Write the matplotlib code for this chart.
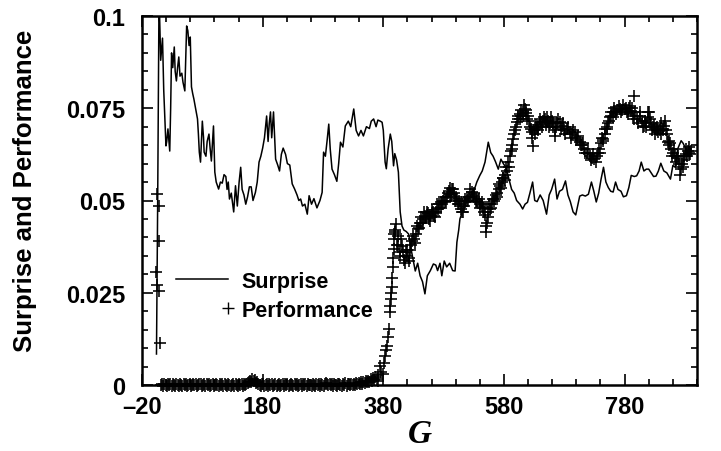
import numpy as np
import matplotlib
matplotlib.use("Agg")
import matplotlib.pyplot as plt
from matplotlib.lines import Line2D
from matplotlib.legend_handler import HandlerBase

# ---------------- data ----------------
surprise_G = [4, 6, 8, 9, 11, 12.5, 14, 16, 19.7, 21, 23, 26, 27.5, 29, 31, 33.5, 35, 37, 39, 41,
              43, 46, 48, 51, 54, 56, 58, 60, 62, 64, 66, 69, 72, 73.5, 75, 77, 78.5, 80, 82, 83,
              86, 88, 91, 93, 95, 97, 98.5, 100.7, 103, 107, 110, 113, 116, 119, 121, 123, 125, 128, 132, 135,
              138, 141, 143.6, 146, 149, 152, 155, 158, 161, 164, 168, 171, 174, 177, 180, 183, 186.6, 189, 191, 193,
              195, 198, 201.5, 205, 208, 211, 214, 218, 221, 225, 229, 233, 237, 240, 243, 246, 250, 254, 257, 261,
              265, 270, 275, 278.6, 281, 284, 287, 289.6, 292, 295, 299, 303, 306, 309, 313, 317, 322, 326, 331, 335,
              339, 343, 347, 352, 357, 360, 364, 368, 371, 375, 378, 380, 383, 385, 388, 391.6, 394, 397, 399, 402,
              405, 408, 411, 414, 418, 422, 427, 433, 437, 441, 445, 449, 453, 458, 463, 467, 470, 474, 477, 481,
              485, 490, 495, 499, 502, 505, 507, 511, 514, 518, 522, 527, 531, 535, 540, 544, 548.6, 554, 558, 562,
              566, 570.6, 575, 579, 583, 587, 592.7, 597, 601, 606.5, 611, 615, 619, 623, 627.5, 631, 635, 640, 645, 650.6,
              655, 659, 664, 668, 672, 677, 682, 686, 690, 694.6, 699, 705.6, 710, 715, 720, 725, 729, 733, 737, 741,
              745, 749, 753, 757, 761, 765, 769, 774, 778, 783, 787, 791, 796, 800, 804, 807.6, 812, 816, 820, 824,
              828, 832, 836, 840, 845, 850, 856, 860, 864, 868, 873.7, 877, 879, 882, 885, 889]
surprise_val = [0.0084, 0.05, 0.1, 0.101, 0.088, 0.091, 0.094, 0.08, 0.0648, 0.066, 0.0694, 0.0634, 0.075, 0.090, 0.086, 0.0916, 0.085, 0.0824, 0.086, 0.0889,
                0.0837, 0.0845, 0.082, 0.0797, 0.0973, 0.096, 0.092, 0.0943, 0.0808, 0.079, 0.0775, 0.0748, 0.0721, 0.068, 0.0631, 0.0604, 0.066, 0.0715, 0.067, 0.0631,
                0.062, 0.066, 0.068, 0.064, 0.0607, 0.066, 0.0702, 0.0577, 0.055, 0.0531, 0.055, 0.0547, 0.057, 0.0565, 0.053, 0.055, 0.0504, 0.052, 0.0469, 0.054,
                0.0485, 0.055, 0.059, 0.053, 0.0515, 0.049, 0.051, 0.0537, 0.0537, 0.05, 0.0522, 0.055, 0.0604, 0.062, 0.0642, 0.067, 0.0729, 0.066, 0.071, 0.074,
                0.067, 0.074, 0.0612, 0.0596, 0.058, 0.0625, 0.0642, 0.0625, 0.060, 0.0596, 0.0545, 0.0531, 0.0515, 0.050, 0.0504, 0.0485, 0.049, 0.0463, 0.0513, 0.049,
                0.0505, 0.048, 0.050, 0.0522, 0.0631, 0.062, 0.0665, 0.0707, 0.064, 0.0585, 0.057, 0.0552, 0.060, 0.0658, 0.0645, 0.0702, 0.0715, 0.070, 0.0748, 0.069,
                0.0675, 0.069, 0.0675, 0.0700, 0.0695, 0.0715, 0.0721, 0.070, 0.0718, 0.0715, 0.0712, 0.069, 0.0604, 0.0586, 0.064, 0.068, 0.066, 0.0594, 0.0627, 0.061,
                0.0577, 0.0469, 0.0431, 0.042, 0.0416, 0.0409, 0.036, 0.0309, 0.033, 0.0296, 0.028, 0.0247, 0.0296, 0.031, 0.0328, 0.0325, 0.031, 0.033, 0.0296, 0.0336,
                0.032, 0.033, 0.031, 0.0309, 0.0387, 0.042, 0.045, 0.0469, 0.048, 0.0496, 0.0505, 0.052, 0.053, 0.055, 0.0568, 0.058, 0.0604, 0.0658, 0.063, 0.062,
                0.0605, 0.0585, 0.0612, 0.060, 0.059, 0.0566, 0.053, 0.052, 0.050, 0.049, 0.0477, 0.049, 0.0495, 0.052, 0.055, 0.050, 0.0497, 0.0515, 0.050, 0.0463,
                0.0515, 0.053, 0.0558, 0.0504, 0.0525, 0.053, 0.0553, 0.0515, 0.0497, 0.0469, 0.0461, 0.0512, 0.0515, 0.0512, 0.0517, 0.055, 0.0525, 0.0496, 0.052, 0.0558,
                0.059, 0.055, 0.0535, 0.0525, 0.0523, 0.055, 0.053, 0.0525, 0.051, 0.0513, 0.0535, 0.0568, 0.0565, 0.0567, 0.058, 0.0604, 0.058, 0.0585, 0.0585, 0.0575,
                0.0565, 0.0566, 0.058, 0.0601, 0.058, 0.0575, 0.0558, 0.0595, 0.0590, 0.064, 0.0662, 0.0655, 0.0648, 0.064, 0.0631, 0.064]

# performance: early scatter
perf_early_G = [3, 5, 5, 8.6, 8.6, 8.6, 10]
perf_early_val = [0.0306, 0.027, 0.0518, 0.0256, 0.0485, 0.0391, 0.0114]

# performance: near-zero plateau, G = 11, 13, ..., 371
perf_base_G = np.arange(11, 372, 2)
perf_base_val = [0.0, 0.0003, -0.0002, 0.0004, 0.0, -0.0003, 0.0002, 0.0, 0.0004, -0.0002,
                 0.0002, 0.0, -0.0004, 0.0003, 0.0001, -0.0002, 0.0004, 0.0, -0.0003, 0.0002,
                 0.0, 0.0003, -0.0002, 0.0001, 0.0004, -0.0004, 0.0, 0.0002, -0.0001, 0.0003,
                 -0.0003, 0.0, 0.0004, 0.0002, -0.0002, 0.0, 0.0003, -0.0004, 0.0002, 0.0,
                 0.0003, -0.0002, 0.0, 0.0004, -0.0003, 0.0001, 0.0002, 0.0, -0.0004, 0.0003,
                 0.0, 0.0002, -0.0003, 0.0004, 0.0, -0.0002, 0.0003, 0.0001, -0.0003, 0.0,
                 0.0004, -0.0002, 0.0002, 0.0, -0.0004, 0.0003, 0.0, 0.0002, -0.0002, 0.0004,
                 0.0, 0.0003, 0.0006, 0.0009, 0.0012, 0.0007, 0.0015, 0.0010, 0.0013, 0.0006,
                 0.0009, 0.0004, 0.0, -0.0003, 0.0002, 0.0004, -0.0002, 0.0, 0.0003, -0.0004,
                 0.0002, 0.0, 0.0004, -0.0003, 0.0001, 0.0003, -0.0002, 0.0, 0.0004, -0.0002,
                 0.0, 0.0003, -0.0004, 0.0002, 0.0, 0.0004, -0.0003, 0.0001, 0.0003, 0.0,
                 -0.0002, 0.0004, 0.0, 0.0002, -0.0003, 0.0, 0.0003, -0.0002, 0.0004, 0.0,
                 0.0002, -0.0004, 0.0003, 0.0, 0.0001, -0.0002, 0.0004, 0.0, -0.0003, 0.0002,
                 0.0, 0.0003, -0.0002, 0.0004, 0.0, -0.0003, 0.0002, 0.0006, 0.0003, -0.0001,
                 0.0002, 0.0, 0.0004, -0.0002, 0.0003, 0.0, -0.0003, 0.0002, 0.0004, 0.0,
                 -0.0002, 0.0003, 0.0, 0.0005, -0.0002, 0.0002, 0.0004, 0.0, 0.0003, 0.0001,
                 0.0004, 0.0, 0.0005, 0.0002, 0.0006, 0.0003, 0.0007, 0.0004, 0.0008, 0.0005,
                 0.0010, 0.0007, 0.0012, 0.0009, 0.0015, 0.0011, 0.0018, 0.0013, 0.0022, 0.0016,
                 0.0028]

# performance: rise and upper band (main trace)
perf_G = [372, 375, 379, 383, 386, 389, 390.5, 392, 394, 395, 396, 398, 399, 397, 400, 402, 405, 408, 411, 414,
          417, 420, 422, 425, 428, 431, 434, 437, 440, 443, 446, 449, 452, 455, 458, 461, 464, 467, 470, 473,
          476, 479, 482.5, 486, 489, 491, 494, 497, 500, 502, 505, 508, 510, 513, 516, 519, 522, 526.6, 530, 533,
          536, 540, 543, 546, 549, 551, 552, 554, 557, 560, 563, 565, 568, 571, 574, 576, 579, 582, 585, 587,
          590, 593, 595, 598, 601, 604, 607, 609, 612, 614.7, 617, 620, 623, 625.8, 628.5, 631, 634, 637, 640, 642,
          645, 648, 650.6, 653, 656, 659, 662, 665, 668, 672.6, 676, 680, 684, 689, 693, 697, 701, 705.6, 709, 713,
          717, 722, 726, 730, 734, 738, 741, 744, 747, 750, 753, 755, 758, 761, 764, 768, 772, 776, 780, 784,
          787, 791, 794, 796, 800, 805, 808, 812, 815, 818, 821, 824, 827, 829.6, 833, 836, 840, 843, 846, 849,
          851.6, 854, 857, 860, 864, 867, 870, 873.7, 876, 879, 882, 884.6, 887, 890]
perf_val = [0.0012, 0.0052, 0.0030, 0.0079, 0.0106, 0.0152, 0.0197, 0.0233, 0.0265, 0.0290, 0.032, 0.0368, 0.0414, 0.0409, 0.042, 0.038, 0.0405, 0.036, 0.0378, 0.034,
            0.036, 0.035, 0.0345, 0.0367, 0.039, 0.0396, 0.041, 0.0423, 0.044, 0.0438, 0.045, 0.0459, 0.047, 0.045, 0.046, 0.0465, 0.0459, 0.047, 0.0477, 0.049,
            0.048, 0.050, 0.0496, 0.051, 0.0525, 0.0518, 0.0531, 0.052, 0.051, 0.0504, 0.049, 0.0477, 0.047, 0.0485, 0.0496, 0.050, 0.051, 0.0522, 0.051, 0.0504,
            0.050, 0.049, 0.0486, 0.048, 0.046, 0.0414, 0.0440, 0.047, 0.0477, 0.049, 0.050, 0.0504, 0.052, 0.0531, 0.054, 0.055, 0.056, 0.0568, 0.058, 0.0604,
            0.062, 0.064, 0.0667, 0.069, 0.0712, 0.072, 0.0735, 0.073, 0.074, 0.0748, 0.0738, 0.073, 0.070, 0.0685, 0.0649, 0.068, 0.0694, 0.070, 0.071, 0.0712,
            0.0715, 0.072, 0.0712, 0.0716, 0.071, 0.0716, 0.070, 0.0676, 0.071, 0.0712, 0.0703, 0.069, 0.0695, 0.0685, 0.068, 0.0685, 0.067, 0.0658, 0.065, 0.064,
            0.063, 0.062, 0.0615, 0.0612, 0.062, 0.064, 0.0655, 0.0667, 0.068, 0.0694, 0.071, 0.0725, 0.073, 0.0739, 0.074, 0.0745, 0.0748, 0.0745, 0.0748, 0.074,
            0.075, 0.0743, 0.073, 0.0784, 0.072, 0.073, 0.0715, 0.0703, 0.071, 0.0725, 0.0739, 0.071, 0.0700, 0.0694, 0.069, 0.0685, 0.068, 0.0695, 0.0703, 0.069,
            0.0658, 0.066, 0.064, 0.063, 0.062, 0.0615, 0.060, 0.0585, 0.059, 0.062, 0.0625, 0.0635, 0.063, 0.0635]

# performance: second layer of markers inside the same band
perf2_G = [377, 381, 385, 388, 391, 393, 396, 398, 401, 404, 407, 410, 413, 416, 419, 423, 426, 430, 433, 436,
           439, 442, 445, 448, 451, 454, 457, 460, 463, 466, 469, 472, 475, 478, 481, 484, 487, 490, 493, 496,
           499, 503, 506, 509, 512, 515, 518, 521, 524, 528, 531, 534, 538, 541, 544, 547, 550, 553, 556, 559,
           562, 566, 569, 572, 575, 578, 581, 584, 588, 591, 594, 597, 600, 603, 606, 608, 611, 613, 616, 619,
           622, 624, 627, 630, 633, 636, 639, 643, 646, 649, 652, 655, 658, 661, 664, 667, 670, 674, 678, 682,
           686, 691, 695, 699, 703, 707, 711, 715, 719, 724, 728, 732, 736, 739, 742, 745, 748, 751, 754, 757,
           760, 763, 766, 770, 774, 778, 782, 786, 789, 792, 795, 798, 802, 806, 810, 813, 816, 819, 822, 825,
           828, 831, 834, 838, 841, 844, 847, 850, 853, 856, 859, 862, 865, 869, 872, 875, 878, 881, 883, 886, 889]
perf2_val = [0.0035, 0.0060, 0.0095, 0.0130, 0.0215, 0.0250, 0.0345, 0.0395, 0.0435, 0.0380, 0.0350, 0.0395, 0.0360, 0.0330, 0.0365, 0.0335, 0.0380, 0.0405, 0.0385, 0.0430,
             0.0425, 0.0455, 0.0440, 0.0470, 0.0455, 0.0465, 0.0445, 0.0475, 0.0470, 0.0455, 0.0490, 0.0480, 0.0495, 0.0490, 0.0510, 0.0500, 0.0520, 0.0535, 0.0515, 0.0530,
             0.0500, 0.0490, 0.0500, 0.0485, 0.0470, 0.0505, 0.0510, 0.0500, 0.0530, 0.0515, 0.0520, 0.0495, 0.0505, 0.0480, 0.0495, 0.0470, 0.0430, 0.0455, 0.0490, 0.0480,
             0.0505, 0.0515, 0.0510, 0.0545, 0.0535, 0.0560, 0.0555, 0.0590, 0.0590, 0.0635, 0.0650, 0.0680, 0.0700, 0.0730, 0.0720, 0.0745, 0.0730, 0.0760, 0.0745, 0.0720,
             0.0715, 0.0695, 0.0670, 0.0690, 0.0705, 0.0690, 0.0720, 0.0700, 0.0725, 0.0705, 0.0725, 0.0700, 0.0725, 0.0710, 0.0690, 0.0700, 0.0720, 0.0695, 0.0710, 0.0680,
             0.0700, 0.0670, 0.0690, 0.0665, 0.0675, 0.0650, 0.0655, 0.0630, 0.0640, 0.0610, 0.0625, 0.0605, 0.0630, 0.0630, 0.0670, 0.0660, 0.0695, 0.0700, 0.0715, 0.0740,
             0.0725, 0.0750, 0.0735, 0.0755, 0.0740, 0.0760, 0.0750, 0.0735, 0.0755, 0.0750, 0.0720, 0.0740, 0.0710, 0.0740, 0.0700, 0.0715, 0.0700, 0.0740, 0.0720, 0.0690,
             0.0705, 0.0680, 0.0700, 0.0690, 0.0710, 0.0690, 0.0715, 0.0680, 0.0650, 0.0655, 0.0620, 0.0640, 0.0605, 0.0620, 0.0570, 0.0600, 0.0610, 0.0640, 0.0620, 0.0645, 0.0625]

x_ticks = [-20, 180, 380, 580, 780]
x_ticklabels = ["\u201320", "180", "380", "580", "780"]
y_ticks = [0, 0.025, 0.05, 0.075, 0.1]
y_ticklabels = ["0", "0.025", "0.05", "0.075", "0.1"]

# ---------------- figure ----------------
sans = ["Liberation Sans", "DejaVu Sans"]
plt.rcParams["font.family"] = sans

fig = plt.figure(figsize=(7.21, 4.52), dpi=100)
ax = fig.add_axes([142 / 721, 1 - 386 / 452, (697 - 142) / 721, (386 - 17) / 452])

line_s, = ax.plot(surprise_G, surprise_val, color="black", lw=1.1, label="Surprise", zorder=3)

perf_all_G = list(perf_early_G) + list(perf_base_G) + list(perf_G) + list(perf2_G)
perf_all_val = list(perf_early_val) + list(perf_base_val) + list(perf_val) + list(perf2_val)
line_p, = ax.plot(perf_all_G, perf_all_val, linestyle="None", marker="+", markersize=8,
                  markeredgewidth=1.15, color="black", label="Performance", clip_on=False, zorder=4)

ax.set_xlim(-20, 900)
ax.set_ylim(0, 0.1)
ax.set_xticks(x_ticks)
ax.set_xticklabels(x_ticklabels)
ax.set_yticks(y_ticks)
ax.set_yticklabels(y_ticklabels)
ax.set_xticks(np.arange(-20, 901, 40), minor=True)
ax.set_yticks(np.arange(0, 0.1001, 0.005), minor=True)

ax.tick_params(which="both", direction="in", top=True, right=True, width=1.2)
ax.tick_params(which="major", length=8, labelsize=17, pad=7)
ax.tick_params(axis="y", which="major", pad=12)
ax.tick_params(which="minor", length=4.5)
for lab in ax.get_xticklabels() + ax.get_yticklabels():
    lab.set_fontweight("bold")
for sp in ax.spines.values():
    sp.set_linewidth(1.8)

ax.set_ylabel("Surprise and Performance", fontsize=18.5, fontweight="bold")
ax.yaxis.set_label_coords(-0.19, 0.53)
ax.set_xlabel("G", fontsize=24, fontweight="bold", fontstyle="italic",
              family=["Liberation Serif", "DejaVu Serif"], labelpad=0)


class RightMarkerHandler(HandlerBase):
    def create_artists(self, legend, orig_handle, xdescent, ydescent, width, height, fontsize, trans):
        ln = Line2D([width - xdescent], [height / 2 - ydescent], linestyle="None", marker="+",
                    markersize=orig_handle.get_markersize(),
                    markeredgewidth=1.0, color="black")
        ln.set_transform(trans)
        return [ln]


leg = ax.legend(handles=[line_s, line_p], loc="upper left", bbox_to_anchor=(0.061, 0.309),
                frameon=False, handlelength=2.43, handletextpad=0.62,
                labelspacing=0.35, borderpad=0, borderaxespad=0,
                handler_map={line_p: RightMarkerHandler()},
                prop={"weight": "bold", "size": 15.5, "family": sans})

fig.savefig("out.png", dpi=100)
